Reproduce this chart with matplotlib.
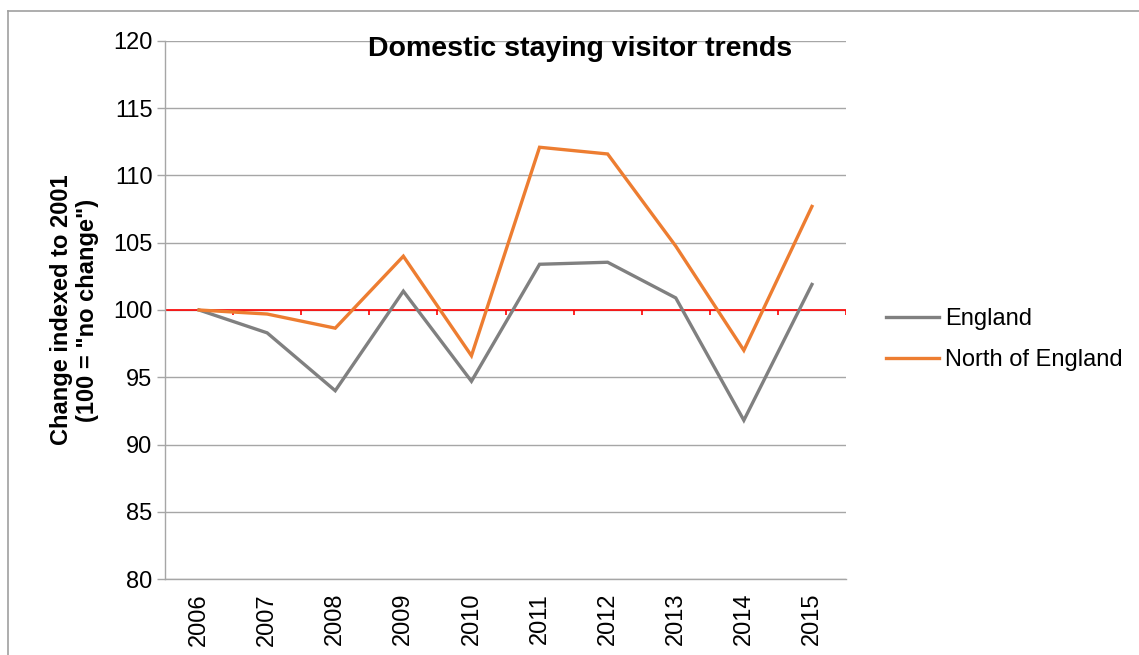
import matplotlib
matplotlib.use("Agg")
import matplotlib.pyplot as plt
from matplotlib.lines import Line2D
import numpy as np

plt.rcParams['font.family'] = ['Liberation Sans', 'DejaVu Sans']

years = ["2006", "2007", "2008", "2009", "2010", "2011", "2012", "2013", "2014", "2015"]
england = [100.0, 98.3, 94.0, 101.4, 94.7, 103.4, 103.55, 100.9, 91.8, 101.9]
north = [100.0, 99.7, 98.65, 104.0, 96.6, 112.1, 111.6, 104.75, 97.0, 107.7]
baseline = 100
y_ticks = [80, 85, 90, 95, 100, 105, 110, 115, 120]

W, H = 1139, 655
fig = plt.figure(figsize=(W / 100, H / 100), dpi=100)
ax = fig.add_axes([165 / W, 1 - 579 / H, (846 - 165) / W, (579 - 41) / H])

x = np.arange(len(years))
grid_c = "#A6A6A6"
ax.plot(x, england, color="#808080", lw=2.4, label="England", solid_joinstyle="miter", zorder=3)
ax.plot(x, north, color="#ED7D31", lw=2.4, label="North of England", solid_joinstyle="miter", zorder=4)

ax.set_xlim(-0.5, len(years) - 0.5)
ax.set_ylim(y_ticks[0], y_ticks[-1])
ax.set_yticks(y_ticks)
ax.set_yticklabels([str(v) for v in y_ticks])
ax.set_xticks(x)
ax.set_xticklabels(years, rotation=90)
ax.tick_params(axis='x', length=0, pad=10, labelsize=17)
ax.tick_params(axis='y', length=6, width=1, color=grid_c, pad=3, labelsize=17)
ax.grid(axis='y', color=grid_c, lw=1)
ax.set_axisbelow(True)
for s in ['top', 'right']:
    ax.spines[s].set_visible(False)
for s in ['left', 'bottom']:
    ax.spines[s].set_color(grid_c)
    ax.spines[s].set_linewidth(1)

# red reference line at 100 with category boundary ticks
ax.axhline(baseline, color="#FF0000", lw=1.2, zorder=2)
bounds = np.arange(-0.5, len(years), 1.0)
ax.vlines(bounds, baseline - 0.4, baseline, color="#FF0000", lw=1.2, zorder=2)

ax.set_ylabel('Change indexed to 2001\n(100 = "no change")', fontsize=17,
              fontweight='bold', labelpad=10, linespacing=1.2)

fig.text(580 / W, 1 - 49 / H, "Domestic staying visitor trends", ha='center', va='center',
         fontsize=20.5, fontweight='bold')

fig.legend(loc='center left', bbox_to_anchor=(886 / W, 1 - 339.5 / H), frameon=False,
           fontsize=17, handlelength=2.25, handletextpad=0.25, labelspacing=0.8,
           borderpad=0, borderaxespad=0)

# outer chart border
fig.add_artist(Line2D([8 / W, 8 / W], [0, 1 - 11 / H], color="#A0A0A0", lw=1.2, transform=fig.transFigure))
fig.add_artist(Line2D([8 / W, 1], [1 - 11 / H, 1 - 11 / H], color="#A0A0A0", lw=1.2, transform=fig.transFigure))

fig.savefig("out.png", dpi=100)
